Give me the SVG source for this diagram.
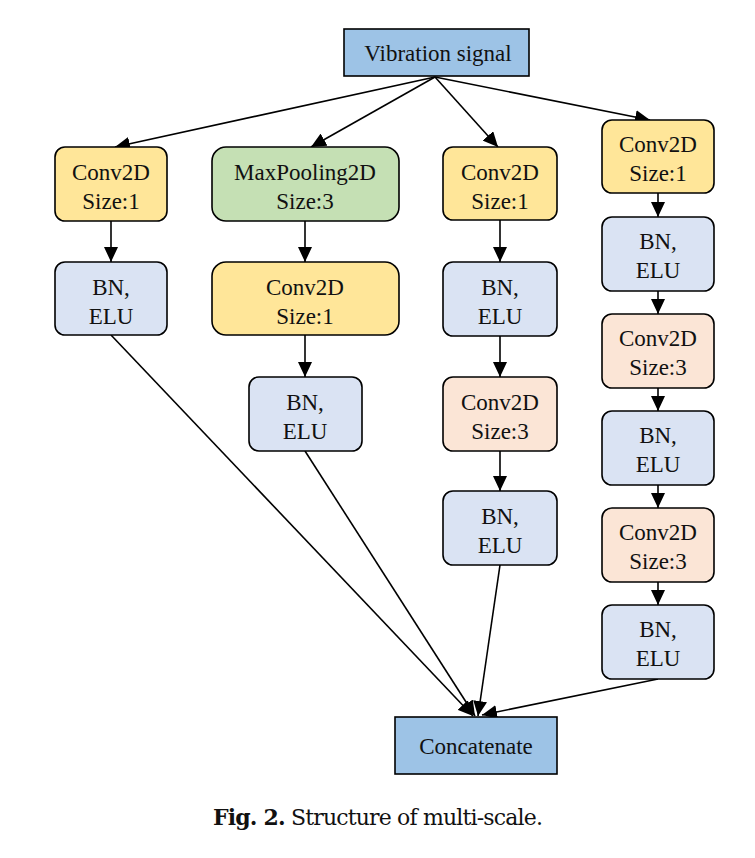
<svg xmlns="http://www.w3.org/2000/svg" width="755" height="858" viewBox="0 0 755 858">
<style>
.n{stroke:#000;stroke-width:1.6}
.y{fill:#FFE699}.g{fill:#C5E0B4}.b{fill:#DAE3F3}.p{fill:#FBE5D6}.s{fill:#9DC3E6}
text{font-family:"Liberation Serif","Times New Roman",serif;font-size:23px;fill:#111;text-anchor:middle}
.c line{stroke:#000;stroke-width:1.6;marker-end:url(#ah)}
</style>
<defs>
<marker id="ah" markerUnits="userSpaceOnUse" markerWidth="16" markerHeight="14" refX="15" refY="7" orient="auto">
<path d="M0,0 L15,7 L0,14 Z" fill="#000"/>
</marker>
</defs>
<rect width="755" height="858" fill="#fff"/>
<g class="c">
<line x1="435" y1="77" x2="115" y2="147"/>
<line x1="435" y1="77" x2="311" y2="147"/>
<line x1="435" y1="77" x2="498" y2="147"/>
<line x1="435" y1="77" x2="650" y2="120"/>
<line x1="111" y1="221" x2="111" y2="262"/>
<line x1="305" y1="221" x2="305" y2="262"/>
<line x1="305" y1="335" x2="305" y2="377"/>
<line x1="500" y1="220" x2="500" y2="262"/>
<line x1="500" y1="336" x2="500" y2="377"/>
<line x1="500" y1="451" x2="500" y2="491"/>
<line x1="658" y1="193" x2="658" y2="217"/>
<line x1="658" y1="291" x2="658" y2="314"/>
<line x1="658" y1="388" x2="658" y2="411"/>
<line x1="658" y1="485" x2="658" y2="508"/>
<line x1="658" y1="582" x2="658" y2="605"/>
<line x1="111" y1="335" x2="473" y2="716"/>
<line x1="305" y1="451" x2="475" y2="716"/>
<line x1="500" y1="565" x2="478" y2="716"/>
<line x1="658" y1="679" x2="482" y2="715"/>
</g>
<g id="vibration"><rect class="n s" x="344" y="29" width="185" height="47"/><text x="438" y="61">Vibration signal</text></g>
<g id="c1n1"><rect class="n y" x="55" y="147" width="112" height="74" rx="10"/><text x="111" y="180">Conv2D</text><text x="111" y="209">Size:1</text></g>
<g id="c1n2"><rect class="n b" x="55" y="262" width="112" height="73" rx="10"/><text x="111" y="295">BN,</text><text x="111" y="324">ELU</text></g>
<g id="c2n1"><rect class="n g" x="212" y="147" width="187" height="74" rx="14"/><text x="305" y="180">MaxPooling2D</text><text x="305" y="209">Size:3</text></g>
<g id="c2n2"><rect class="n y" x="212" y="262" width="187" height="73" rx="14"/><text x="305" y="295">Conv2D</text><text x="305" y="324">Size:1</text></g>
<g id="c2n3"><rect class="n b" x="249" y="377" width="113" height="74" rx="10"/><text x="305" y="410">BN,</text><text x="305" y="439">ELU</text></g>
<g id="c3n1"><rect class="n y" x="443" y="147" width="114" height="73" rx="10"/><text x="500" y="180">Conv2D</text><text x="500" y="209">Size:1</text></g>
<g id="c3n2"><rect class="n b" x="443" y="262" width="114" height="74" rx="10"/><text x="500" y="295">BN,</text><text x="500" y="324">ELU</text></g>
<g id="c3n3"><rect class="n p" x="443" y="377" width="114" height="74" rx="10"/><text x="500" y="410">Conv2D</text><text x="500" y="439">Size:3</text></g>
<g id="c3n4"><rect class="n b" x="443" y="491" width="114" height="74" rx="10"/><text x="500" y="524">BN,</text><text x="500" y="553">ELU</text></g>
<g id="c4n1"><rect class="n y" x="602" y="120" width="112" height="73" rx="10"/><text x="658" y="152">Conv2D</text><text x="658" y="181">Size:1</text></g>
<g id="c4n2"><rect class="n b" x="602" y="217" width="112" height="74" rx="10"/><text x="658" y="249">BN,</text><text x="658" y="278">ELU</text></g>
<g id="c4n3"><rect class="n p" x="602" y="314" width="112" height="74" rx="10"/><text x="658" y="346">Conv2D</text><text x="658" y="375">Size:3</text></g>
<g id="c4n4"><rect class="n b" x="602" y="411" width="112" height="74" rx="10"/><text x="658" y="443">BN,</text><text x="658" y="472">ELU</text></g>
<g id="c4n5"><rect class="n p" x="602" y="508" width="112" height="74" rx="10"/><text x="658" y="540">Conv2D</text><text x="658" y="569">Size:3</text></g>
<g id="c4n6"><rect class="n b" x="602" y="605" width="112" height="74" rx="10"/><text x="658" y="637">BN,</text><text x="658" y="666">ELU</text></g>
<g id="concat"><rect class="n s" x="395" y="717" width="162" height="57"/><text x="476" y="754">Concatenate</text></g>
<text x="213" y="825" textLength="330" lengthAdjust="spacing" style="font-size:22px;text-anchor:start;font-family:'DejaVu Serif','Liberation Serif',serif"><tspan font-weight="bold">Fig. 2.</tspan> Structure of multi-scale.</text>
</svg>
